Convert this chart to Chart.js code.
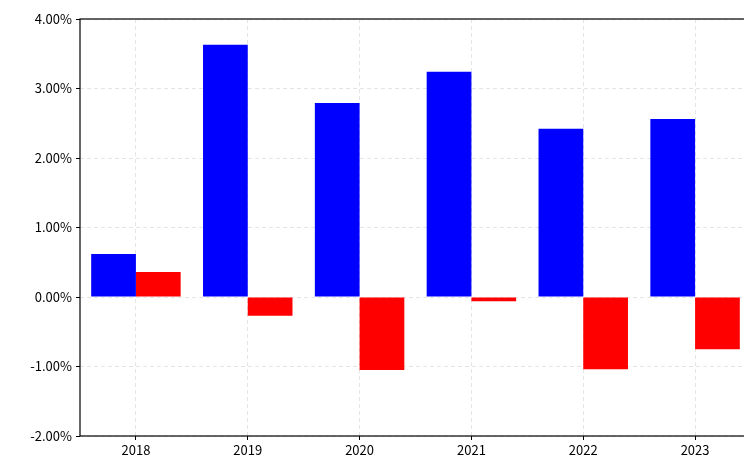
<!DOCTYPE html>
<html>
<head>
<meta charset="utf-8">
<script src="https://cdn.jsdelivr.net/npm/chart.js@4/dist/chart.umd.min.js"></script>
<style>
html,body{margin:0;padding:0;overflow:hidden;background:#fff;}
#wrap{width:760px;height:465px;}
</style>
</head>
<body>
<div id="wrap"><canvas id="c"></canvas></div>
<script>
var years = ["2018", "2019", "2020", "2021", "2022", "2023"];
var blueValues = [0.62, 3.63, 2.79, 3.24, 2.42, 2.56];
var redValues = [0.36, -0.27, -1.05, -0.06, -1.04, -0.75];

var boxPlugin = {
	id: 'box',
	afterDraw: function(chart){
		var a = chart.chartArea, ctx = chart.ctx;
		ctx.save();
		ctx.strokeStyle = '#000';
		ctx.lineWidth = 1.2;
		ctx.strokeRect(a.left, a.top, a.right - a.left, a.bottom - a.top);
		ctx.restore();
	}
};

new Chart(document.getElementById('c'), {
	type: 'bar',
	data: {
		labels: years,
		datasets: [
			{ label: 'A', data: blueValues, backgroundColor: '#0000ff' },
			{ label: 'B', data: redValues, backgroundColor: '#ff0000' }
		]
	},
	options: {
		responsive: true,
		maintainAspectRatio: false,
		animation: false,
		categoryPercentage: 0.8,
		barPercentage: 1.0,
		layout: { padding: { top: 19, right: 9, left: 0, bottom: 0 } },
		plugins: { legend: { display: false }, tooltip: { enabled: false } },
		scales: {
			x: {
				afterFit: function(s){ s.height = 29; },
				grid: { offset: false, color: 'rgba(0,0,0,0.1)', tickColor: '#000', tickLength: 4, tickBorderDash: [] },
				border: { display: false, dash: [4, 3] },
				ticks: { color: '#000', font: { family: 'Noto Sans CJK SC', size: 13 }, padding: 2 }
			},
			y: {
				min: -2, max: 4,
				afterFit: function(s){ s.width = 80; },
				grid: { color: 'rgba(0,0,0,0.1)', tickColor: '#000', tickLength: 4, tickBorderDash: [] },
				border: { display: false, dash: [4, 3] },
				ticks: {
					stepSize: 1, color: '#000', padding: 4,
					font: { family: 'Noto Sans CJK SC', size: 13 },
					callback: function(v){ return v.toFixed(2) + '%'; }
				}
			}
		}
	},
	plugins: [boxPlugin]
});
</script>
</body>
</html>
